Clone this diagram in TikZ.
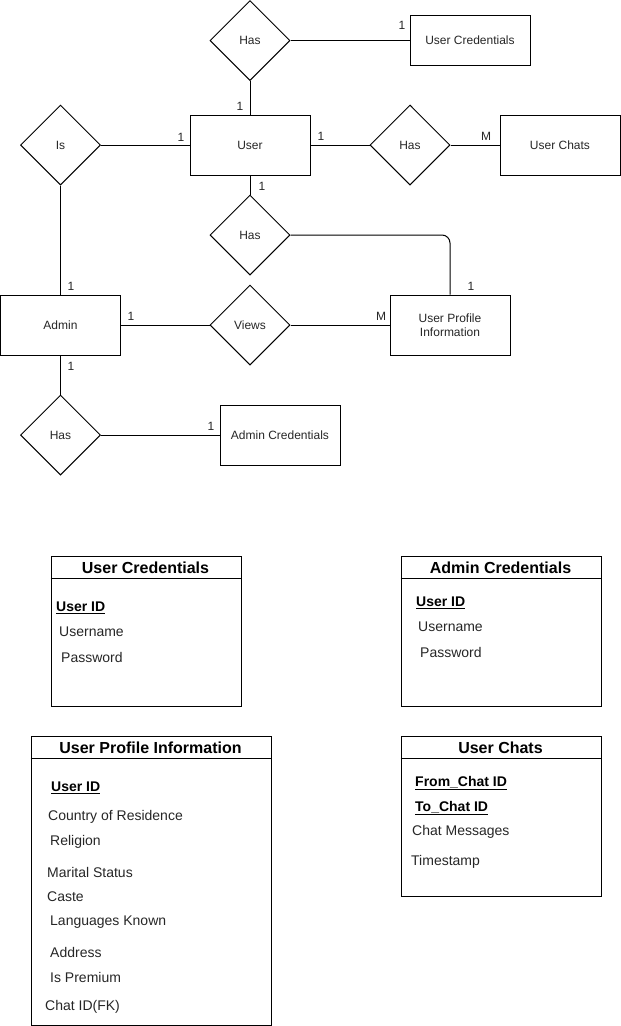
\documentclass[tikz,border=0pt]{standalone}
\usepackage{fontspec}
\setmainfont{Liberation Sans}
\usetikzlibrary{shapes.geometric}
\begin{document}
\begin{tikzpicture}[x=1pt,y=-1pt,
 ent/.style={draw, line width=1pt, minimum width=120pt, minimum height=60pt, inner sep=0pt, font=\fontsize{12}{14}\selectfont, align=center, text=black!85},
 rel/.style={draw, diamond, line width=1pt, minimum width=80pt, minimum height=80pt, inner sep=0pt, font=\fontsize{12}{14}\selectfont, text=black!85},
 card/.style={font=\fontsize{12}{14}\selectfont, inner sep=0pt, text=black!85},
 conn/.style={line width=1pt},
 tbl/.style={draw, line width=1pt, anchor=north west, inner sep=0pt},
 thead/.style={font=\bfseries\fontsize{16}{18}\selectfont, inner sep=0pt},
 attr/.style={font=\fontsize{14}{16}\selectfont, anchor=west, inner sep=0pt, text=black!85},
 keyattr/.style={font=\bfseries\fontsize{14}{16}\selectfont, anchor=west, inner sep=0pt}]
\useasboundingbox (0,0) rectangle (621,1026);

% entities
\node[ent, minimum height=50pt] (ucred) at (470,40.5) {User Credentials};
\node[ent] (user) at (250,145) {User};
\node[ent] (uchats) at (560,145) {User Chats};
\node[ent] (admin) at (60.5,325) {Admin};
\node[ent] (upi) at (450,325) {User Profile\\Information};
\node[ent] (acred) at (280,435) {Admin Credentials};

% relationships
\node[rel] (has1) at (250,40.5) {Has};
\node[rel] (is) at (60.5,145) {Is};
\node[rel] (has2) at (410,145) {Has};
\node[rel] (has3) at (250,235) {Has};
\node[rel] (views) at (250,325) {Views};
\node[rel] (has4) at (60.5,435) {Has};

% connectors
\draw[conn] (has1.east) -- (ucred.west);
\draw[conn] (has1.south) -- (user.north);
\draw[conn] (is.east) -- (user.west);
\draw[conn] (user.east) -- (has2.west);
\draw[conn] (has2.east) -- (uchats.west);
\draw[conn] (user.south) -- (has3.north);
\draw[conn, rounded corners=8pt] (has3.east) -| (upi.north);
\draw[conn] (is.south) -- (admin.north);
\draw[conn] (admin.east) -- (views.west);
\draw[conn] (views.east) -- (upi.west);
\draw[conn] (admin.south) -- (has4.north);
\draw[conn] (has4.east) -- (acred.west);

% cardinalities
\node[card] (c1) at (402,25) {1};
\node[card] (c2) at (240,106) {1};
\node[card] (c3) at (181,137) {1};
\node[card] (c4) at (321,136) {1};
\node[card] (c5) at (486,136) {M};
\node[card] (c6) at (262,186) {1};
\node[card] (c7) at (471,286) {1};
\node[card] (c8) at (71,286) {1};
\node[card] (c9) at (131,316) {1};
\node[card] (c10) at (381,316) {M};
\node[card] (c11) at (71,366) {1};
\node[card] (c12) at (211,426) {1};

% table: User Credentials
\node[tbl, minimum width=190pt, minimum height=150pt] (t1) at (50.5,555.5) {};
\draw[conn] (t1.north west) ++(0,23) -- ++(190,0);
\node[thead] (t1h) at (145.5,568) {User Credentials};
\node[keyattr] (t1a) at (56,608) {\underline{User ID}};
\node[attr] (t1b) at (59,632) {Username};
\node[attr] (t1c) at (61,657) {Password};

% table: Admin Credentials
\node[tbl, minimum width=200pt, minimum height=150pt] (t2) at (400.5,555.5) {};
\draw[conn] (t2.north west) ++(0,23) -- ++(200,0);
\node[thead] (t2h) at (500.5,568) {Admin Credentials};
\node[keyattr] (t2a) at (416,603) {\underline{User ID}};
\node[attr] (t2b) at (418,627) {Username};
\node[attr] (t2c) at (420,652) {Password};

% table: User Profile Information
\node[tbl, minimum width=240pt, minimum height=289pt] (t3) at (30.5,735.5) {};
\draw[conn] (t3.north west) ++(0,23) -- ++(240,0);
\node[thead] (t3h) at (150.5,748) {User Profile Information};
\node[keyattr] (t3a) at (51,788) {\underline{User ID}};
\node[attr] (t3b) at (48,817) {Country of Residence};
\node[attr] (t3c) at (50,842) {Religion};
\node[attr] (t3d) at (47,872) {Marital Status};
\node[attr] (t3e) at (47,897) {Caste};
\node[attr] (t3f) at (50,922) {Languages Known};
\node[attr] (t3g) at (50,952) {Address};
\node[attr] (t3h2) at (50,977) {Is Premium};
\node[attr] (t3i) at (45,1007) {Chat ID(FK)};

% table: User Chats
\node[tbl, minimum width=200pt, minimum height=160pt] (t4) at (400.5,735.5) {};
\draw[conn] (t4.north west) ++(0,23) -- ++(200,0);
\node[thead] (t4h) at (500.5,748) {User Chats};
\node[keyattr] (t4a) at (415,783) {\underline{From\_Chat ID}};
\node[keyattr] (t4b) at (415,808) {\underline{To\_Chat ID}};
\node[attr] (t4c) at (412,832) {Chat Messages};
\node[attr] (t4d) at (411,862) {Timestamp};
\end{tikzpicture}
\end{document}
